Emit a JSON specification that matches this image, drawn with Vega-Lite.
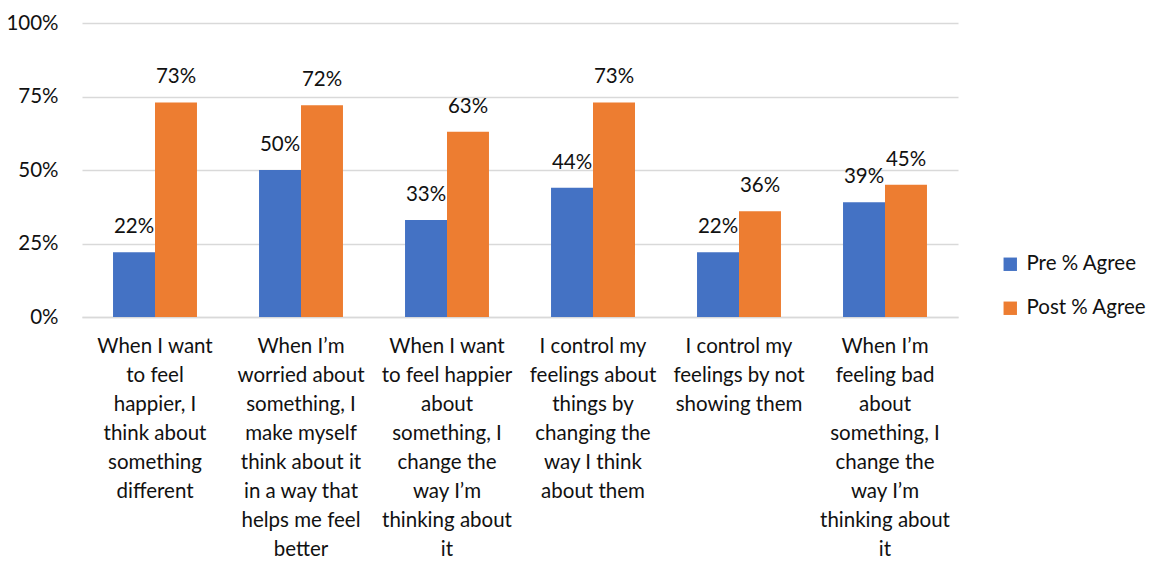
{
  "$schema": "https://vega.github.io/schema/vega-lite/v6.json",
  "autosize": {"type": "none"},
  "padding": {"left": 82, "top": 23, "right": 192, "bottom": 244},
  "width": 876,
  "height": 294,
  "background": "white",
  "config": {
    "font": "Lato",
    "view": {"stroke": null}
  },
  "data": {
    "values": [
      {"q": "When I want|to feel|happier, I|think about|something|different", "s": "Pre % Agree", "v": 0.22},
      {"q": "When I want|to feel|happier, I|think about|something|different", "s": "Post % Agree", "v": 0.73},
      {"q": "When I’m|worried about|something, I|make myself|think about it|in a way that|helps me feel|better", "s": "Pre % Agree", "v": 0.50},
      {"q": "When I’m|worried about|something, I|make myself|think about it|in a way that|helps me feel|better", "s": "Post % Agree", "v": 0.72},
      {"q": "When I want|to feel happier|about|something, I|change the|way I’m|thinking about|it", "s": "Pre % Agree", "v": 0.33},
      {"q": "When I want|to feel happier|about|something, I|change the|way I’m|thinking about|it", "s": "Post % Agree", "v": 0.63},
      {"q": "I control my|feelings about|things by|changing the|way I think|about them", "s": "Pre % Agree", "v": 0.44},
      {"q": "I control my|feelings about|things by|changing the|way I think|about them", "s": "Post % Agree", "v": 0.73},
      {"q": "I control my|feelings by not|showing them", "s": "Pre % Agree", "v": 0.22},
      {"q": "I control my|feelings by not|showing them", "s": "Post % Agree", "v": 0.36},
      {"q": "When I’m|feeling bad|about|something, I|change the|way I’m|thinking about|it", "s": "Pre % Agree", "v": 0.39},
      {"q": "When I’m|feeling bad|about|something, I|change the|way I’m|thinking about|it", "s": "Post % Agree", "v": 0.45}
    ]
  },
  "encoding": {
    "x": {
      "field": "q", "type": "nominal", "sort": null,
      "scale": {"paddingInner": 0.425, "paddingOuter": 0.2125},
      "axis": {
        "title": null, "labelAngle": 0, "labelExpr": "split(datum.value, '|')",
        "labelFontSize": 20.5, "labelColor": "#111111", "labelLineHeight": 29,
        "labelPadding": 19, "ticks": false, "domainColor": "#d9d9d9", "domainWidth": 1.5,
        "labelBaseline": "top", "labelLimit": 200
      }
    },
    "xOffset": {"field": "s", "type": "nominal", "sort": ["Pre % Agree", "Post % Agree"], "scale": {"paddingInner": 0, "paddingOuter": 0}},
    "y": {
      "field": "v", "type": "quantitative",
      "scale": {"domain": [0, 1], "nice": false},
      "axis": {
        "title": null, "values": [0, 0.25, 0.5, 0.75, 1], "format": ".0%",
        "domain": false, "ticks": false, "gridColor": "#d9d9d9", "gridWidth": 1.5,
        "labelFontSize": 20.5, "labelColor": "#111111", "labelPadding": 24
      }
    }
  },
  "layer": [
    {
      "mark": {"type": "bar"},
      "encoding": {
        "color": {
          "field": "s", "type": "nominal", "sort": ["Pre % Agree", "Post % Agree"],
          "scale": {"domain": ["Pre % Agree", "Post % Agree"], "range": ["#4472C4", "#ED7D31"]},
          "legend": {
            "title": null, "orient": "none", "legendX": 918, "legendY": 231,
            "symbolType": "square", "symbolSize": 180, "symbolStrokeWidth": 0,
            "labelFontSize": 20.5, "labelColor": "#111111", "rowPadding": 23, "labelOffset": 6
          }
        }
      }
    },
    {
      "mark": {"type": "text", "dy": -25, "fontSize": 20.5, "color": "#111111"},
      "encoding": {
        "text": {"field": "v", "type": "quantitative", "format": ".0%"}
      }
    }
  ]
}
